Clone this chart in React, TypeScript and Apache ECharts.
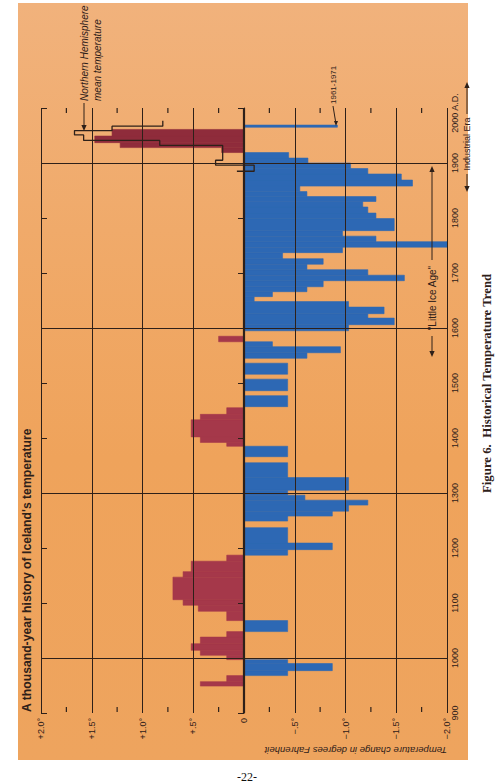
import React, { useEffect, useRef } from "react";
import * as echarts from "echarts";

// Iceland temperature departures (deg F) by period: start year, end year, value
const ICELAND_START = [949, 957, 968, 977, 990, 997, 1005, 1014, 1026, 1038, 1048, 1068, 1085, 1096, 1106, 1147, 1157, 1176, 1187, 1197, 1209, 1249, 1258, 1267, 1278, 1287, 1296, 1305, 1328, 1366, 1385, 1392, 1402, 1433, 1443, 1457, 1486, 1516, 1545, 1555, 1566, 1575, 1595, 1606, 1618, 1626, 1638, 1648, 1657, 1666, 1675, 1686, 1696, 1706, 1716, 1726, 1737, 1747, 1757, 1767, 1777, 1799, 1809, 1820, 1830, 1839, 1848, 1858, 1869, 1880, 1890, 1900, 1909, 1919, 1928, 1937, 1949];
const ICELAND_END = [957, 968, 977, 990, 997, 1005, 1014, 1026, 1038, 1048, 1068, 1085, 1096, 1106, 1147, 1157, 1176, 1187, 1197, 1209, 1237, 1258, 1267, 1278, 1287, 1296, 1305, 1328, 1355, 1385, 1392, 1402, 1433, 1443, 1455, 1477, 1507, 1536, 1555, 1566, 1575, 1585, 1606, 1618, 1626, 1638, 1648, 1657, 1666, 1675, 1686, 1696, 1706, 1716, 1726, 1737, 1747, 1757, 1767, 1777, 1799, 1809, 1820, 1830, 1839, 1848, 1858, 1869, 1880, 1890, 1900, 1909, 1919, 1928, 1937, 1949, 1961];
const ICELAND_TEMP = [0.43, 0.17, -0.43, -0.87, -0.43, 0.17, 0.43, 0.52, 0.43, 0.17, -0.43, 0.17, 0.45, 0.6, 0.7, 0.6, 0.52, 0.17, -0.43, -0.87, -0.43, -0.43, -0.87, -1.03, -1.22, -0.6, -0.43, -1.03, -0.43, -0.43, 0.17, 0.43, 0.52, 0.43, 0.17, -0.43, -0.43, -0.43, -0.62, -0.95, -0.28, 0.25, -1.03, -1.48, -1.22, -1.38, -1.03, -0.1, -0.28, -0.62, -0.78, -1.58, -1.22, -0.62, -0.78, -0.38, -0.97, -2.0, -1.3, -0.97, -1.48, -1.3, -1.22, -1.17, -1.3, -0.62, -0.55, -1.66, -1.55, -1.22, -1.05, -0.63, -0.44, 0.22, 1.22, 1.47, 1.3];

// Northern Hemisphere mean temperature (outline)
const NH_START = [1885, 1885, 1896, 1905, 1932, 1941, 1951, 1959, 1967];
const NH_END = [1885, 1896, 1905, 1932, 1941, 1951, 1959, 1967, 1977];
const NH_TEMP = [0.07, -0.1, 0.28, 0.21, 0.83, 1.58, 1.67, 1.3, 0.8];

// 1961-1971 mean
const RECENT_LABEL = ["1961-1971"];
const RECENT_START = [1965];
const RECENT_END = [1969];
const RECENT_TEMP = [-0.92];

const TEMP_TICKS = [2, 1.5, 1, 0.5, 0, -0.5, -1, -1.5, -2];
const TEMP_TICK_LABELS = ["+2.0°", "+1.5°", "+1.0°", "+.5°", "0", "−.5°", "−1.0°", "−1.5°", "−2.0°"];
const TEMP_MINOR_TICKS = [1.75, 1.25, 0.75, 0.25, -0.25, -0.75, -1.25, -1.75];
const YEAR_TICK_LABELS = ["900", "1000", "1100", "1200", "1300", "1400", "1500", "1600", "1700", "1800", "1900", "2000 A.D."];
const MAJOR_YEAR_LINES = [1000, 1300, 1600, 1900];

const INK = "#2e2019";
const RED = "#a5384a";
const RED_DARK = "#8f2c3b";
const BLUE = "#2d68b4";
const SANS = "'Liberation Sans', Arial, sans-serif";
const SERIF = "'Liberation Serif', 'Times New Roman', serif";

function arrowHead(x: number, y: number, dir: "up" | "down", w = 2.6, h = 6) {
  const pts = dir === "down"
    ? [[x - w, y - h], [x + w, y - h], [x, y]]
    : [[x - w, y + h], [x + w, y + h], [x, y]];
  return { type: "polygon", z: 20, shape: { points: pts }, style: { fill: INK } };
}
function vline(x: number, y1: number, x2: number, y2: number, w = 1) {
  return { type: "line", z: 20, shape: { x1: x, y1, x2, y2 }, style: { stroke: INK, lineWidth: w } };
}
function vtext(text: string, x: number, y: number, font: string, align: string, rot = Math.PI / 2) {
  return {
    type: "text", z: 20, x, y, rotation: rot,
    style: { text, font, fill: INK, align, verticalAlign: "middle" },
  };
}

export default function App() {
  const ref = useRef<HTMLDivElement>(null);
  useEffect(() => {
    if (!ref.current) return;
    const chart = echarts.init(ref.current, null, { renderer: "svg" });
    const icelandData = ICELAND_START.map((s, i) => [s, ICELAND_END[i], ICELAND_TEMP[i]]);
    const recentData = RECENT_START.map((s, i) => [s, RECENT_END[i], RECENT_TEMP[i], RECENT_LABEL[i]]);
    const nhPoints: number[][] = [];
    NH_START.forEach((s, i) => {
      nhPoints.push([NH_TEMP[i], s]);
      nhPoints.push([NH_TEMP[i], NH_END[i]]);
    });
    const rectItem = (params: any, api: any) => {
      const s = api.value(0), e = api.value(1), v = api.value(2);
      const p0 = api.coord([0, s]);
      const p1 = api.coord([v, e]);
      const x = Math.min(p0[0], p1[0]);
      const y = Math.min(p0[1], p1[1]);
      const color = v >= 0 ? (s >= 1900 ? RED_DARK : RED) : BLUE;
      return {
        type: "rect",
        shape: { x, y, width: Math.abs(p1[0] - p0[0]), height: Math.max(Math.abs(p1[1] - p0[1]), 1.8) },
        style: { fill: color, stroke: color, lineWidth: 0.6 },
      };
    };
    const minorTickItem = (params: any, api: any) => {
      const v = api.value(0);
      const top = api.coord([v, 2000]);
      const bottom = api.coord([v, 900]);
      return {
        type: "group",
        children: [
          { type: "line", shape: { x1: top[0], y1: top[1], x2: top[0], y2: top[1] + 5 }, style: { stroke: INK, lineWidth: 1.2 } },
          { type: "line", shape: { x1: bottom[0], y1: bottom[1] - 6, x2: bottom[0], y2: bottom[1] - 1 }, style: { stroke: INK, lineWidth: 1.2 } },
        ],
      };
    };
    const tempLabel = (v: number) => {
      const idx = TEMP_TICKS.findIndex((t) => Math.abs(t - v) < 1e-6);
      return idx >= 0 ? TEMP_TICK_LABELS[idx] : "";
    };
    const yearLabel = (v: number) => {
      const idx = Math.round((v - 900) / 100);
      const t = YEAR_TICK_LABELS[idx] || "";
      return v === 2000 ? "{ad|" + t + "}" : t;
    };
    const axisTickStyle = { color: INK, width: 1 };
    chart.setOption({
      animation: false,
      backgroundColor: "transparent",
      grid: { left: 41, right: 48, top: 108, bottom: 71 },
      xAxis: [
        {
          type: "value", min: -2, max: 2, interval: 0.5, inverse: true, position: "bottom", z: 3,
          axisLine: { show: false },
          axisTick: { show: false },
          splitLine: { show: true, lineStyle: { color: INK, width: 1 } },
          axisLabel: { rotate: 90, margin: 5, formatter: tempLabel, fontSize: 9, color: INK, fontFamily: SANS },
        },
      ],
      yAxis: [
        {
          type: "value", min: 900, max: 2000, interval: 100, position: "right", z: 3,
          axisLine: { show: true, lineStyle: { color: INK, width: 1 } },
          axisTick: { show: true, inside: true, length: 6, lineStyle: axisTickStyle },
          splitLine: { show: false },
          axisLabel: {
            rotate: 90, margin: 3, formatter: yearLabel, fontSize: 9, color: INK, fontFamily: SANS,
            rich: { ad: { fontSize: 9, color: INK, fontFamily: SANS, padding: [0, 10, 0, 0] } },
          },
        },
        {
          type: "value", min: 900, max: 2000, interval: 100, position: "left", z: 3,
          axisLine: { show: false },
          axisTick: { show: true, inside: true, length: 6, lineStyle: axisTickStyle },
          splitLine: { show: false },
          axisLabel: { show: false },
        },
      ],
      series: [
        {
          type: "custom", name: "Iceland", xAxisIndex: 0, yAxisIndex: 0, z: 1,
          renderItem: rectItem, encode: { x: 2, y: [0, 1] }, data: icelandData,
        },
        {
          type: "custom", name: "1961-1971", xAxisIndex: 0, yAxisIndex: 0, z: 1,
          renderItem: rectItem, encode: { x: 2, y: [0, 1] }, data: recentData,
        },
        {
          type: "custom", name: "minor ticks", xAxisIndex: 0, yAxisIndex: 0, z: 4, silent: true,
          renderItem: minorTickItem, encode: { x: 0 }, data: TEMP_MINOR_TICKS.map((v) => [v]),
        },
        {
          type: "line", name: "Northern Hemisphere", xAxisIndex: 0, yAxisIndex: 0, z: 6,
          data: nhPoints, showSymbol: false, symbol: "none",
          lineStyle: { color: INK, width: 1.3 },
          markLine: {
            silent: true, symbol: ["none", "none"], label: { show: false },
            lineStyle: { color: INK, width: 1, type: "solid" },
            data: [
              { xAxis: 0, lineStyle: { width: 2.2, color: INK, type: "solid" } },
              ...MAJOR_YEAR_LINES.map((y) => ({ yAxis: y })),
            ],
          },
        },
      ],
      graphic: [
        vtext("A thousand-year history of Iceland's temperature", 27, 712, `bold 12.2px ${SANS}`, "left"),
        vtext("Northern Hemisphere", 84, 101, `italic 10px ${SANS}`, "left"),
        vtext("mean temperature", 97, 101, `italic 10px ${SANS}`, "left"),
        vline(84, 103, 84, 126),
        arrowHead(84, 131, "down"),
        vtext("1961-1971", 333, 104, `8px ${SANS}`, "left"),
        vline(333, 106, 335.5, 121),
        arrowHead(336, 126, "down", 2, 5),
        vtext('"Little Ice Age"', 432, 298, `10px ${SANS}`, "center"),
        vline(432, 260, 432, 170),
        arrowHead(432, 166, "up"),
        vline(432, 336, 432, 352),
        arrowHead(432, 357, "down"),
        vtext("Industrial Era", 467, 144, `9px ${SANS}`, "center"),
        vline(467, 114, 467, 86),
        arrowHead(467, 82, "up"),
        vline(467, 174, 467, 188),
        arrowHead(467, 192, "down"),
        vtext("Temperature change in degrees Fahrenheit", 447, 750, `italic 9.5px ${SANS}`, "left", Math.PI),
        vtext("Figure 6.  Historical Temperature Trend", 487, 493, `bold 12.8px ${SERIF}`, "left"),
        { type: "text", z: 20, x: 247, y: 777, style: { text: "-22-", font: `12px ${SERIF}`, fill: "#111", align: "center", verticalAlign: "middle" } },
      ],
    });
    return () => chart.dispose();
  }, []);
  return (
    <div style={{ position: "fixed", left: 0, top: 0, width: 495, height: 784, background: "#ffffff", overflow: "hidden" }}>
      <div
        style={{
          position: "absolute", left: 18, top: 3, width: 450, height: 757,
          background: "linear-gradient(180deg, #f1b27c 0%, #f0aa6a 30%, #efa35b 60%, #eea45e 100%)",
        }}
      />
      <div ref={ref} style={{ position: "absolute", left: 0, top: 0, width: 495, height: 784 }} />
    </div>
  );
}
